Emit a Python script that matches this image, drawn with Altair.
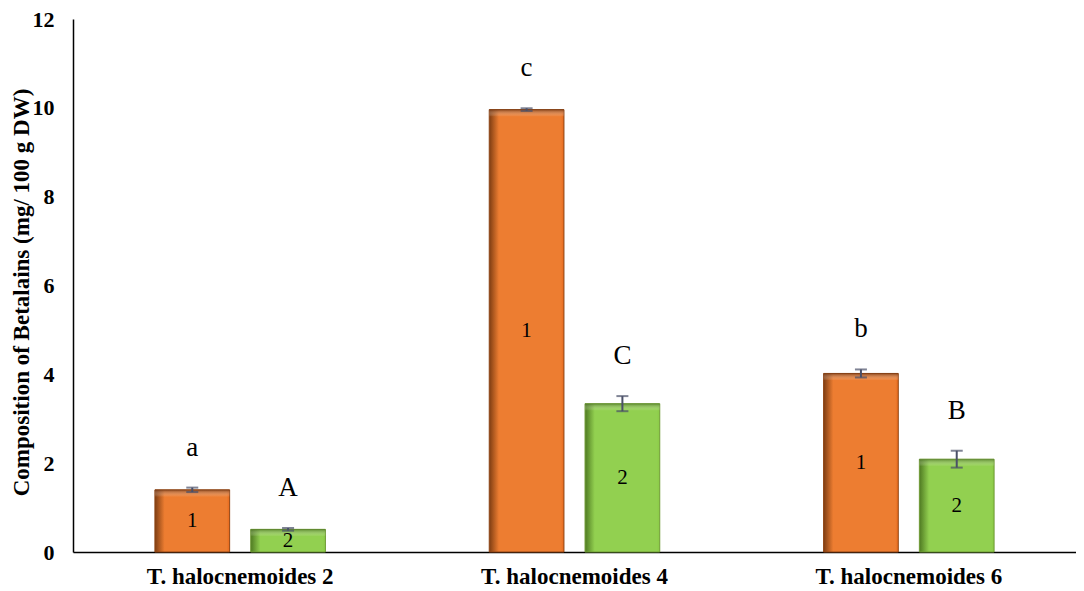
import altair as alt
import pandas as pd

groups = ["T. halocnemoides 2", "T. halocnemoides 4", "T. halocnemoides 6"]
series = ["1", "2"]
values_1 = [1.40, 9.96, 4.02]
errors_1 = [0.05, 0.03, 0.09]
values_2 = [0.51, 3.34, 2.09]
errors_2 = [0.03, 0.17, 0.19]
letters_1 = ["a", "c", "b"]
letters_2 = ["A", "C", "B"]
y_ticks = [0, 2, 4, 6, 8, 10, 12]

rows = []
for g, v, e, l in zip(groups, values_1, errors_1, letters_1):
    rows.append(dict(group=g, series="1", value=v, err=e, letter=l))
for g, v, e, l in zip(groups, values_2, errors_2, letters_2):
    rows.append(dict(group=g, series="2", value=v, err=e, letter=l))
df = pd.DataFrame(rows)

FONT = "Liberation Serif"
H = 533

x = alt.X(
    "group:N", sort=groups,
    scale=alt.Scale(paddingInner=0, paddingOuter=0),
    axis=alt.Axis(title=None, labelAngle=0, ticks=False, grid=False,
                  domainColor="black", domainWidth=1.5, labelLimit=0,
                  labelFont=FONT, labelFontWeight="bold", labelFontSize=23,
                  labelColor="black", labelPadding=13),
)
xo = alt.XOffset("series:N", sort=series,
                 scale=alt.Scale(paddingInner=0.22, paddingOuter=0.855))
yscale = alt.Scale(domain=[0, 12], nice=False)
yaxis = alt.Axis(values=y_ticks, ticks=False, grid=False,
                 domainColor="black", domainWidth=1.5,
                 labelFont=FONT, labelFontWeight="bold", labelFontSize=22,
                 labelColor="black", labelPadding=19,
                 title="Composition of Betalains  (mg/ 100 g DW)",
                 titleFont=FONT, titleFontWeight="bold", titleFontSize=23,
                 titleColor="black", titleAngle=-90, titleAlign="center",
                 titleBaseline="middle", titleX=-52, titleY=273, titleLimit=0)

base = alt.Chart(df).transform_calculate(
    lo="datum.value - datum.err",
    hi="datum.value + datum.err",
    mid="datum.value / 2",
    shade="datum.value - 0.16",
)


def grad_h(edge, main, right):
    return alt.Gradient(
        gradient="linear", x1=0, x2=1, y1=0, y2=0,
        stops=[alt.GradientStop(color=edge, offset=0),
               alt.GradientStop(color=main, offset=0.13),
               alt.GradientStop(color=main, offset=0.96),
               alt.GradientStop(color=right, offset=1)],
    )


def grad_v(dark):
    return alt.Gradient(
        gradient="linear", x1=0, x2=0, y1=0, y2=1,
        stops=[alt.GradientStop(color=dark, offset=0),
               alt.GradientStop(color="rgba(255,255,255,0)", offset=1)],
    )


orange = base.transform_filter("datum.series == '1'").mark_bar(
    color=grad_h("#7e3d12", "#ED7D31", "#e8691c"), stroke="#8f4514", strokeWidth=1
).encode(x=x, xOffset=xo, y=alt.Y("value:Q", scale=yscale, axis=yaxis))

green = base.transform_filter("datum.series == '2'").mark_bar(
    color=grad_h("#4f7a22", "#92D050", "#8acb45"), stroke="#6f9a35", strokeWidth=1
).encode(x=x, xOffset=xo, y=alt.Y("value:Q", scale=yscale, axis=yaxis))

orange_top = base.transform_filter("datum.series == '1'").mark_bar(
    color=grad_v("rgba(110,50,15,0.75)")
).encode(x=x, xOffset=xo, y=alt.Y("value:Q", scale=yscale, axis=yaxis), y2="shade:Q")

green_top = base.transform_filter("datum.series == '2'").mark_bar(
    color=grad_v("rgba(70,110,30,0.7)")
).encode(x=x, xOffset=xo, y=alt.Y("value:Q", scale=yscale, axis=yaxis), y2="shade:Q")

rule = base.mark_rule(color="#4a5068", strokeWidth=2).encode(
    x=x, xOffset=xo, y=alt.Y("lo:Q", scale=yscale, axis=yaxis), y2="hi:Q")
cap_hi = base.mark_tick(color="#4a5068", size=12, thickness=2).encode(
    x=x, xOffset=xo, y=alt.Y("hi:Q", scale=yscale, axis=yaxis))
cap_lo = base.mark_tick(color="#4a5068", size=12, thickness=2).encode(
    x=x, xOffset=xo, y=alt.Y("lo:Q", scale=yscale, axis=yaxis))

letters = base.mark_text(font=FONT, fontSize=27, color="black", dy=-40,
                         baseline="middle").encode(
    x=x, xOffset=xo, y=alt.Y("hi:Q", scale=yscale, axis=yaxis), text="letter:N")

labels = base.mark_text(font=FONT, fontSize=21, color="black",
                        baseline="middle").encode(
    x=x, xOffset=xo, y=alt.Y("mid:Q", scale=yscale, axis=yaxis), text="series:N")

chart = alt.layer(orange, green, orange_top, green_top, rule, cap_hi, cap_lo,
                  letters, labels).properties(
    width=1003, height=H,
    autosize=alt.AutoSizeParams(type="none"),
    padding={"left": 65, "top": 11, "right": 0, "bottom": 36},
    background="white",
).configure_view(stroke=None)

chart.save("out.html", embed_options={"renderer": "svg", "actions": False})
